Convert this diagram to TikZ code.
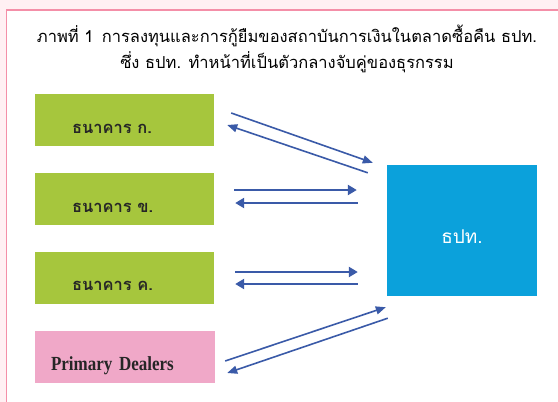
\documentclass[tikz,border=0pt]{standalone}
\usepackage{fontspec}
\setmainfont{Liberation Serif}
\newfontfamily\thaifont[Script=Thai]{Loma}
\newfontfamily\dealerfont[FakeStretch=0.85]{Liberation Serif}
\usetikzlibrary{arrows.meta,calc}

\definecolor{bankgreen}{RGB}{166,198,61}
\definecolor{dealerpink}{RGB}{240,168,200}
\definecolor{botblue}{RGB}{11,161,219}
\definecolor{flowblue}{RGB}{58,90,168}
\definecolor{pagepink}{RGB}{255,240,243}
\definecolor{framepink}{RGB}{244,143,168}

\tikzset{
	bank/.style={fill=bankgreen, minimum width=179pt, minimum height=52pt,
		text width=105pt, inner xsep=37pt, align=left, text=black!85,
		text height=26pt, text depth=0pt,
		font=\thaifont\bfseries\fontsize{16.5}{16.5}\selectfont},
	dealer/.style={fill=dealerpink, minimum width=180pt, minimum height=52pt,
		text width=148pt, inner xsep=16pt, align=left, text=black!85,
		text height=26pt, text depth=0pt,
		font=\dealerfont\bfseries\fontsize{20}{20}\selectfont},
	bot/.style={fill=botblue, minimum width=150pt, minimum height=131pt,
		text=white, text height=25pt, text depth=0pt,
		font=\thaifont\fontsize{19}{19}\selectfont},
	flow/.style={draw=flowblue, line width=1.6pt, -{Triangle[length=10pt,width=8pt]}},
	flowthick/.style={draw=flowblue, line width=2.8pt, -{Triangle[length=9pt,width=10pt]}},
}

\begin{document}
\begin{tikzpicture}[x=1pt, y=-1pt]
	\useasboundingbox (0,0) rectangle (558,402);
	\fill[pagepink] (0,0) rectangle (558,402);
	\fill[white] (6.5,10) rectangle (558,402);
	\draw[framepink, line width=1.5pt] (6.5,402) -- (6.5,10) -- (558,10);

	\node[align=center, font=\thaifont\fontsize{16.5}{26}\selectfont] (ttl) at (287,49)
		{ภาพที่ 1\enspace การลงทุนและการกู้ยืมของสถาบันการเงินในตลาดซื้อคืน ธปท.\\
		ซึ่ง ธปท. ทำหน้าที่เป็นตัวกลางจับคู่ของธุรกรรม};

	\node[bank] (bankA) at (124.5,120) {ธนาคาร ก.};
	\node[bank] (bankB) at (124.5,199) {ธนาคาร ข.};
	\node[bank] (bankC) at (124.5,277.5) {ธนาคาร ค.};
	\node[dealer] (pd) at (125,357) {Primary Dealers};
	\node[bot] (bot) at (462,230.5) {ธปท.};

	\draw[flow] ($(bankA.east)+(17,-7)$) -- ($(bot.north west)+(-14,-2)$);
	\draw[flow] ($(bot.north west)+(-19,8)$) -- ($(bankA.east)+(13,5)$);

	\draw[flowthick] ($(bankB.east)+(20,-9)$) -- ($(bankB.east -| bot.west)+(-30,-9)$);
	\draw[flowthick] ($(bankB.east -| bot.west)+(-29,4)$) -- ($(bankB.east)+(21,4)$);

	\draw[flowthick] ($(bankC.east)+(21,-5.5)$) -- ($(bankC.east -| bot.west)+(-29,-5.5)$);
	\draw[flowthick] ($(bankC.east -| bot.west)+(-29,6.5)$) -- ($(bankC.east)+(21,6.5)$);

	\draw[flow] ($(pd.east)+(10,4)$) -- ($(bot.south west)+(-1,11)$);
	\draw[flow] ($(bot.south west)+(1,22)$) -- ($(pd.east)+(12,16)$);
\end{tikzpicture}
\end{document}
